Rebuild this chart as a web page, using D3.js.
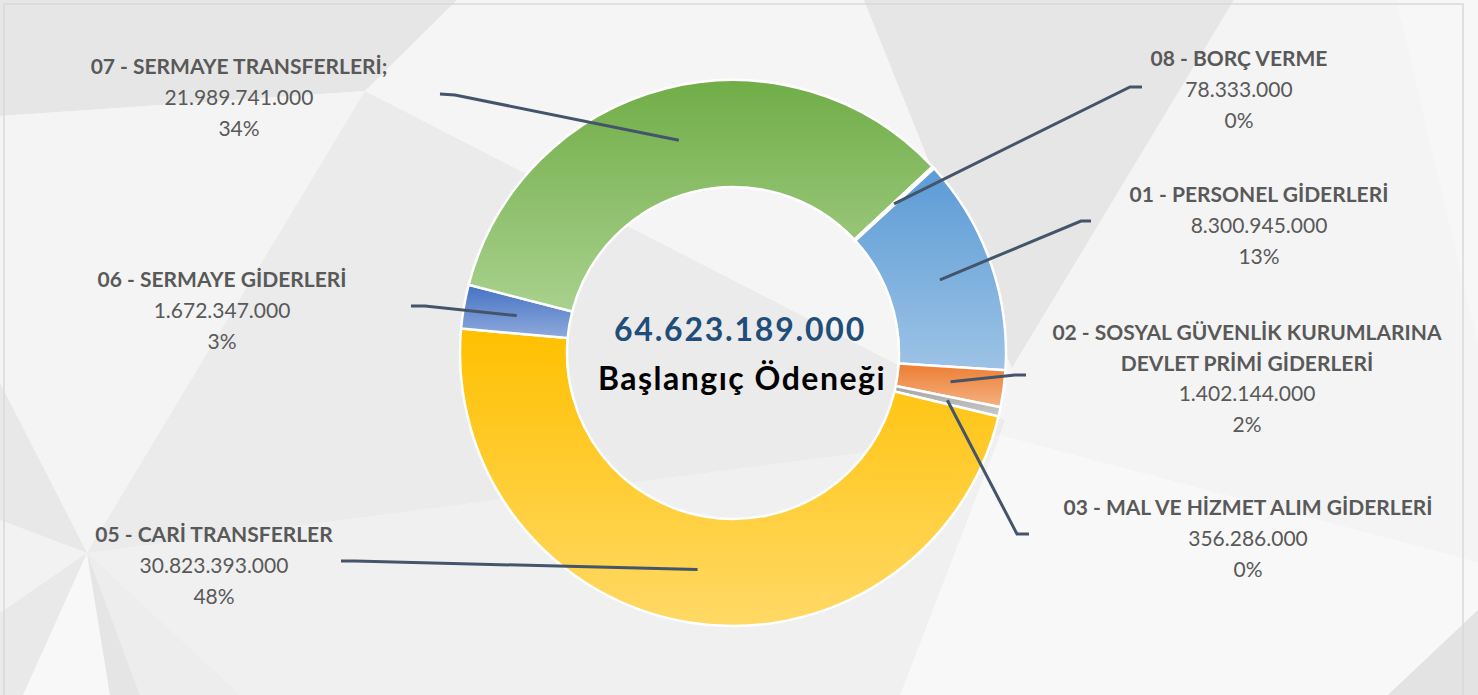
<!DOCTYPE html>
<html lang="tr">
<head>
<meta charset="UTF-8">
<title>Başlangıç Ödeneği</title>
<script src="https://cdn.jsdelivr.net/npm/d3@7"></script>
<style>
  html, body { margin: 0; padding: 0; background: #f2f2f2; }
  svg { display: block; }
  .lbl { font-family: Lato, "Open Sans", sans-serif; font-size: 21px; fill: #595959; }
  .lbl .name { font-weight: bold; }
  .leader { fill: none; stroke: #44546a; stroke-width: 3; }
</style>
</head>
<body>
<div id="chart"></div>
<script>
// data
var names = [
  ["01 - PERSONEL GİDERLERİ"],
  ["02 - SOSYAL GÜVENLİK KURUMLARINA", "DEVLET PRİMİ  GİDERLERİ"],
  ["03 - MAL VE HİZMET ALIM GİDERLERİ"],
  ["05 - CARİ TRANSFERLER"],
  ["06 - SERMAYE GİDERLERİ"],
  ["07 - SERMAYE TRANSFERLERİ;"],
  ["08 - BORÇ VERME"]
];
var values = [8300945000, 1402144000, 356286000, 30823393000, 1672347000, 21989741000, 78333000];
var pctLabels = ["13%", "2%", "0%", "48%", "3%", "34%", "0%"];
var centerLabel = "Başlangıç Ödeneği";

// styles / layout
var colorsTop = ["#5b9bd5", "#ed7d31", "#a5a5a5", "#ffc000", "#4472c4", "#70ad47", "#255e91"];
var colorsBottom = ["#9dc3e6", "#f4b183", "#c9c9c9", "#ffd966", "#8faadc", "#a9d18e", "#6f9fd0"];
// label text anchor (center x, first baseline) and leader elbow/end points
var labelPos = [[1259, 202], [1247, 340], [1248, 515], [214, 542], [222, 287], [239, 74], [1239, 66]];
var elbow = [[1081, 221], [1015, 375], [1017, 534], [355, 561], [425, 306], [455, 95], [1130, 87]];
var elbowEnd = [[1091, 221], [1026, 375], [1029, 534], [341, 561], [411, 306], [440, 94], [1142, 87]];

var W = 1478, H = 695;
var cx = 733, cy = 353, R = 273, r = 166;
var startA = 47.4 * Math.PI / 180;

var svg = d3.select("#chart").append("svg")
    .attr("width", W)
    .attr("height", H);

// background shapes
var bg = svg.append("g");
bg.append("rect").attr("width", W).attr("height", H).attr("fill", "#f2f2f2");
var shapes = [
  ["#e6e6e6", [[0, 0], [457, 0], [365, 91], [0, 116]]],
  ["#f4f4f4", [[0, 116], [365, 91], [87, 553], [0, 383]]],
  ["#ebebeb", [[365, 91], [1005, 420], [1000, 435], [87, 553]]],
  ["#f5f5f5", [[457, 0], [864, 0], [1012, 368], [1005, 420], [365, 91]]],
  ["#e6e6e6", [[864, 0], [1234, 0], [1012, 368]]],
  ["#f4f4f4", [[1234, 0], [1396, 0], [1478, 346], [1478, 562], [1000, 435], [1005, 420], [1012, 368]]],
  ["#f7f7f7", [[1396, 0], [1478, 0], [1478, 346]]],
  ["#f8f8f8", [[1000, 435], [1478, 562], [1478, 610], [1388, 695], [900, 695]]],
  ["#f0f0f0", [[87, 553], [1000, 435], [900, 695], [240, 695]]],
  ["#e3e3e3", [[1388, 695], [1478, 610], [1478, 695]]],
  ["#e8e8e8", [[0, 383], [87, 553], [0, 520]]],
  ["#f2f2f2", [[0, 520], [87, 553], [0, 613]]],
  ["#e9e9e9", [[0, 613], [87, 553], [23, 695], [0, 695]]],
  ["#f8f8f8", [[23, 695], [87, 553], [110, 695]]],
  ["#e5e5e5", [[110, 695], [87, 553], [140, 695]]],
  ["#ededed", [[140, 695], [87, 553], [240, 695]]]
];
bg.selectAll("polygon.shape")
  .data(shapes)
  .enter()
  .append("polygon")
  .attr("class", "shape")
  .attr("points", function (d) { return d[1].map(function (p) { return p.join(","); }).join(" "); })
  .attr("fill", function (d) { return d[0]; });
bg.append("rect")
  .attr("x", 4).attr("y", 4).attr("width", 1459).attr("height", H)
  .attr("fill", "none").attr("stroke", "#d9d9d9").attr("stroke-width", 1.5);

// gradients
var defs = svg.append("defs");
values.forEach(function (v, i) {
  var g = defs.append("linearGradient")
      .attr("id", "grad" + i)
      .attr("x1", 0).attr("y1", 0).attr("x2", 0).attr("y2", 1);
  g.append("stop").attr("offset", "0%").attr("stop-color", colorsTop[i]);
  g.append("stop").attr("offset", "100%").attr("stop-color", colorsBottom[i]);
});

var total = d3.sum(values);
var loc = d3.formatLocale({ decimal: ",", thousands: ".", grouping: [3], currency: ["", ""] });
var fmt = loc.format(",");

var pie = d3.pie()
    .sort(null)
    .startAngle(startA)
    .endAngle(startA + 2 * Math.PI)
    .value(function (d) { return d; });
var arcs = pie(values);

var arc = d3.arc().innerRadius(r).outerRadius(R);

var g = svg.append("g").attr("transform", "translate(" + cx + "," + cy + ")");

g.selectAll("path.slice")
  .data(arcs)
  .enter()
  .append("path")
  .attr("class", "slice")
  .attr("d", arc)
  .attr("fill", function (d, i) { return "url(#grad" + i + ")"; })
  .attr("stroke", "#ffffff")
  .attr("stroke-width", 2.5)
  .attr("stroke-linejoin", "round");

// leader lines
svg.selectAll("polyline.leader")
  .data(arcs)
  .enter()
  .append("polyline")
  .attr("class", "leader")
  .attr("points", function (d, i) {
    var c = arc.centroid(d);
    return [[cx + c[0], cy + c[1]], elbow[i], elbowEnd[i]].map(function (p) { return p.join(","); }).join(" ");
  });

// labels
var lineH = 30.5;
var labels = svg.selectAll("text.lbl")
  .data(arcs)
  .enter()
  .append("text")
  .attr("class", "lbl")
  .attr("text-anchor", "middle");

labels.each(function (d, i) {
  var t = d3.select(this);
  var x = labelPos[i][0], y = labelPos[i][1];
  var lines = names[i];
  lines.forEach(function (s, k) {
    t.append("tspan").attr("class", "name").attr("x", x).attr("y", y + k * lineH).text(s);
  });
  var n = lines.length;
  t.append("tspan").attr("x", x).attr("y", y + n * lineH).text(fmt(values[i]));
  t.append("tspan").attr("x", x).attr("y", y + (n + 1) * lineH + 0.5).text(pctLabels[i]);
});

// center text
svg.append("text")
  .attr("x", 740).attr("y", 341)
  .attr("text-anchor", "middle")
  .style("font-family", "Lato, sans-serif")
  .style("font-weight", "bold")
  .style("font-size", "32px")
  .style("letter-spacing", "1.8px")
  .style("fill", "#1f4e79")
  .text(fmt(total));

svg.append("text")
  .attr("x", 742).attr("y", 390)
  .attr("text-anchor", "middle")
  .style("font-family", "Lato, sans-serif")
  .style("font-weight", "bold")
  .style("font-size", "32px")
  .style("letter-spacing", "1.5px")
  .style("fill", "#000000")
  .text(centerLabel);
</script>
</body>
</html>
